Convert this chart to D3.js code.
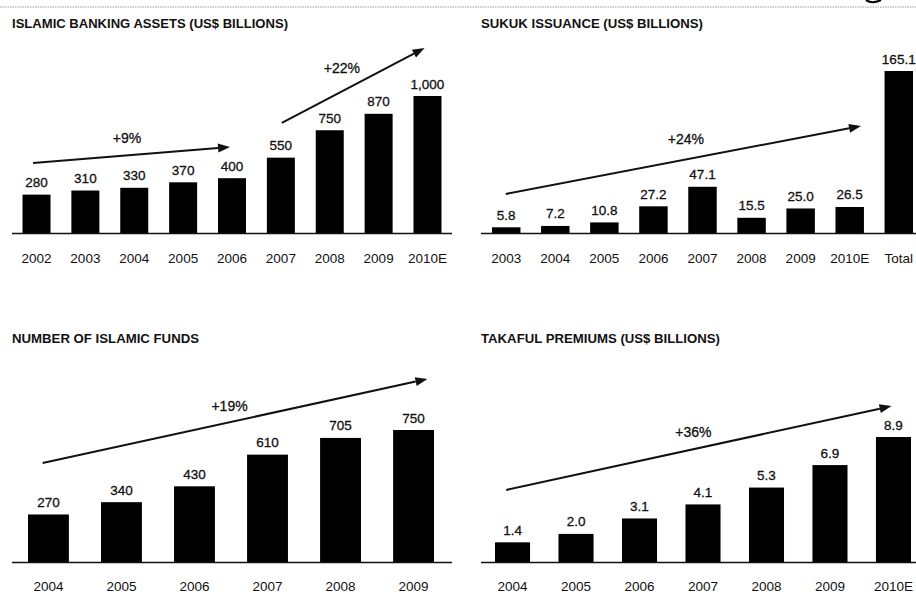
<!DOCTYPE html>
<html>
<head>
<meta charset="utf-8">
<script src="https://cdn.jsdelivr.net/npm/d3@7"></script>
<style>
  html, body { margin: 0; padding: 0; background: #fff; }
  svg { display: block; font-family: "Liberation Sans", Arial, Helvetica, sans-serif; }
</style>
</head>
<body>
<svg id="chart" width="916" height="597"></svg>
<script>
// ---------- DATA ----------
const bankingYears  = ["2002","2003","2004","2005","2006","2007","2008","2009","2010E"];
const bankingAssets = [280, 310, 330, 370, 400, 550, 750, 870, 1000];
const bankingLabels = ["280","310","330","370","400","550","750","870","1,000"];

const sukukYears  = ["2003","2004","2005","2006","2007","2008","2009","2010E","Total"];
const sukukValues = [5.8, 7.2, 10.8, 27.2, 47.1, 15.5, 25.0, 26.5, 165.1];
const sukukLabels = ["5.8","7.2","10.8","27.2","47.1","15.5","25.0","26.5","165.1"];

const fundsYears  = ["2004","2005","2006","2007","2008","2009"];
const fundsValues = [270, 340, 430, 610, 705, 750];
const fundsLabels = ["270","340","430","610","705","750"];

const takafulYears  = ["2004","2005","2006","2007","2008","2009","2010E"];
const takafulValues = [1.4, 2.0, 3.1, 4.1, 5.3, 6.9, 8.9];
const takafulLabels = ["1.4","2.0","3.1","4.1","5.3","6.9","8.9"];

const titles = [
  "ISLAMIC BANKING ASSETS (US$ BILLIONS)",
  "SUKUK ISSUANCE (US$ BILLIONS)",
  "NUMBER OF ISLAMIC FUNDS",
  "TAKAFUL PREMIUMS (US$ BILLIONS)"
];

// growth annotations: [label, fromIndex, fromValue, toIndex, toValue, labelIndex, labelValue]
const bankingGrowth = [
  ["+9%", -0.07, 511, 3.96, 628, 1.85, 657],
  ["+22%", 5.02, 803, 7.94, 1350, 6.25, 1168]
];
const sukukGrowth   = [["+24%", -0.01, 39.8, 7.23, 109, 3.66, 90.7]];
const fundsGrowth   = [["+19%", -0.08, 562, 5.19, 1040, 2.48, 858]];
const takafulGrowth = [["+36%", -0.10, 5.13, 5.97, 11.1, 2.85, 8.9]];

// ---------- LAYOUT ----------
const svg = d3.select("#chart");

// top dotted rule
svg.append("line")
  .attr("x1", 0).attr("x2", 916).attr("y1", 7).attr("y2", 7)
  .attr("stroke", "#9a9a9a").attr("stroke-width", 1).attr("stroke-dasharray", "1.5,1");
// fragment of a cut-off glyph at the top right edge
svg.append("path")
  .attr("d", "M866,0 Q872,4.5 881,0")
  .attr("fill", "none").attr("stroke", "#000").attr("stroke-width", 2.2);

function panel(cfg) {
  const g = svg.append("g");
  const x = d3.scaleBand().domain(cfg.cats).range(cfg.xRange)
    .paddingInner(cfg.padIn).paddingOuter(0);
  const y = d3.scaleLinear().domain([0, cfg.yMax]).range([cfg.base, cfg.yTop]);
  const step = x.step();
  const c0 = x(cfg.cats[0]) + x.bandwidth() / 2;
  const px = i => c0 + i * step;

  // title
  g.append("text")
    .attr("x", cfg.titleX).attr("y", cfg.titleY)
    .attr("font-size", 12.5).attr("font-weight", "bold")
    .attr("textLength", cfg.titleW).attr("lengthAdjust", "spacingAndGlyphs")
    .attr("fill", "#111").text(cfg.title);

  // bars
  g.selectAll("rect.bar").data(cfg.vals).join("rect")
    .attr("class", "bar")
    .attr("x", (d, i) => x(cfg.cats[i]))
    .attr("width", x.bandwidth())
    .attr("y", d => y(d))
    .attr("height", d => y(0) - y(d))
    .attr("fill", "#000");

  // baseline
  g.append("line")
    .attr("x1", cfg.lineX[0]).attr("x2", cfg.lineX[1])
    .attr("y1", y(0) + 0.5).attr("y2", y(0) + 0.5)
    .attr("stroke", "#111").attr("stroke-width", 1.6);

  // value labels
  g.selectAll("text.val").data(cfg.vals).join("text")
    .attr("class", "val")
    .attr("x", (d, i) => x(cfg.cats[i]) + x.bandwidth() / 2)
    .attr("y", d => y(d) - 7.5)
    .attr("text-anchor", "middle").attr("font-size", 13.5)
    .attr("fill", "#111").attr("stroke", "#111").attr("stroke-width", 0.3)
    .text((d, i) => cfg.labels[i]);

  // axis (category labels)
  const axis = d3.axisBottom(x).tickSize(0).tickPadding(0);
  const ag = g.append("g").attr("transform", `translate(0,${cfg.axisY})`).call(axis);
  ag.select(".domain").remove();
  ag.selectAll("text").attr("font-size", 13.5).attr("fill", "#111")
    .attr("font-family", "\"Liberation Sans\", Arial, sans-serif")
    .attr("dy", "0").attr("y", 0);

  // growth arrows
  cfg.growth.forEach(a => {
    const [lab, fi, fv, ti, tv, li, lv] = a;
    const x1 = px(fi), y1 = y(fv), x2 = px(ti), y2 = y(tv);
    const ang = Math.atan2(y2 - y1, x2 - x1);
    const L = 12, W = 4.5;
    const bx = x2 - L * Math.cos(ang), by = y2 - L * Math.sin(ang);
    g.append("line")
      .attr("x1", x1).attr("y1", y1).attr("x2", bx).attr("y2", by)
      .attr("stroke", "#111").attr("stroke-width", 2);
    const nx = -Math.sin(ang), ny = Math.cos(ang);
    g.append("path")
      .attr("d", `M${x2},${y2}L${bx + nx * W},${by + ny * W}L${bx - nx * W},${by - ny * W}Z`)
      .attr("fill", "#111");
    g.append("text")
      .attr("x", px(li)).attr("y", y(lv))
      .attr("text-anchor", "middle").attr("font-size", 14)
      .attr("fill", "#111").attr("stroke", "#111").attr("stroke-width", 0.3)
      .text(lab);
  });
}

panel({
  cats: bankingYears, vals: bankingAssets, labels: bankingLabels,
  xRange: [22.5, 441.5], padIn: 0.427, yMax: 1000, base: 233, yTop: 96,
  lineX: [12, 452], axisY: 263, title: titles[0], titleX: 12, titleY: 27.5, titleW: 276,
  growth: bankingGrowth
});
panel({
  cats: sukukYears, vals: sukukValues, labels: sukukLabels,
  xRange: [492, 913], padIn: 0.42, yMax: 165.1, base: 233, yTop: 71,
  lineX: [481, 916], axisY: 263, title: titles[1], titleX: 481, titleY: 27.5, titleW: 222,
  growth: sukukGrowth
});
panel({
  cats: fundsYears, vals: fundsValues, labels: fundsLabels,
  xRange: [28, 434], padIn: 0.44, yMax: 750, base: 562, yTop: 430,
  lineX: [12, 452], axisY: 591, title: titles[2], titleX: 12, titleY: 342.5, titleW: 187,
  growth: fundsGrowth
});
panel({
  cats: takafulYears, vals: takafulValues, labels: takafulLabels,
  xRange: [495, 911], padIn: 0.448, yMax: 8.9, base: 562, yTop: 437,
  lineX: [481, 916], axisY: 591, title: titles[3], titleX: 481, titleY: 342.5, titleW: 239,
  growth: takafulGrowth
});
</script>
</body>
</html>
